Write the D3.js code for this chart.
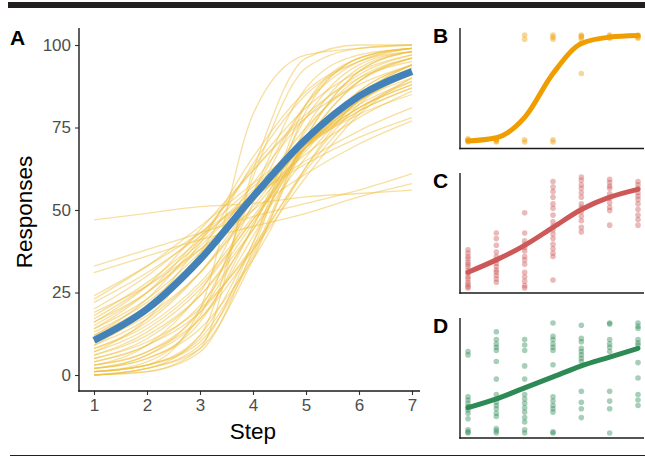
<!DOCTYPE html>
<html>
<head>
<meta charset="utf-8">
<script src="https://cdn.jsdelivr.net/npm/d3@7"></script>
<style>
  body { margin: 0; background: #fff; }
  svg { display: block; font-family: "Liberation Sans", Arial, sans-serif; }
</style>
</head>
<body>
<div id="chart"></div>
<script>
// steps on the x axis
var steps = [1, 2, 3, 4, 5, 6, 7];
var yTicksA = [0, 25, 50, 75, 100];

// panel A: fitted curve per participant (value at each step) and the mean fit
var curvesA = [
  [47, 49, 51, 52, 54, 55, 56],
  [33, 38, 43, 48, 52, 56, 61],
  [31, 36, 41, 45, 49, 54, 58],
  [0, 1, 8, 62, 96, 100, 100],
  [1, 3, 20, 79, 97, 99, 100],
  [0, 2, 12, 60, 93, 99, 100],
  [1, 4, 18, 55, 87, 97, 99],
  [0, 2, 9, 40, 82, 96, 99],
  [2, 5, 16, 45, 78, 94, 98],
  [1, 3, 11, 37, 72, 92, 98],
  [3, 7, 19, 45, 74, 90, 96],
  [2, 6, 17, 42, 71, 89, 96],
  [4, 9, 21, 44, 69, 86, 94],
  [5, 11, 24, 46, 70, 86, 94],
  [6, 12, 24, 44, 66, 83, 92],
  [7, 14, 27, 47, 68, 83, 91],
  [8, 15, 28, 48, 69, 84, 93],
  [9, 17, 31, 51, 71, 85, 93],
  [10, 18, 31, 50, 69, 83, 91],
  [11, 20, 34, 53, 71, 84, 92],
  [12, 21, 35, 53, 70, 83, 90],
  [13, 22, 36, 53, 69, 81, 89],
  [14, 23, 37, 54, 70, 82, 89],
  [15, 25, 39, 55, 70, 81, 88],
  [16, 25, 38, 53, 67, 78, 86],
  [17, 27, 40, 55, 69, 80, 87],
  [18, 28, 41, 56, 70, 81, 88],
  [20, 30, 43, 57, 70, 80, 87],
  [22, 31, 42, 54, 65, 74, 81],
  [23, 33, 45, 58, 70, 79, 85],
  [24, 33, 43, 54, 64, 72, 78],
  [19, 27, 38, 50, 61, 70, 77],
  [1, 3, 12, 40, 75, 93, 98],
  [0, 1, 7, 38, 80, 96, 99],
  [0, 2, 8, 35, 72, 92, 98],
  [2, 5, 14, 35, 63, 84, 94],
  [3, 7, 17, 38, 63, 82, 92],
  [4, 9, 19, 39, 62, 80, 90],
  [5, 10, 20, 38, 60, 79, 90],
  [6, 13, 26, 47, 69, 85, 94],
  [8, 16, 31, 53, 75, 89, 96],
  [10, 19, 35, 58, 78, 91, 97],
  [12, 23, 41, 63, 81, 92, 97],
  [14, 25, 42, 62, 79, 90, 95],
  [9, 20, 40, 66, 86, 95, 98],
  [7, 17, 37, 64, 85, 95, 99],
  [3, 9, 25, 55, 82, 95, 99],
  [2, 6, 20, 52, 82, 96, 99],
  [16, 27, 44, 62, 78, 88, 94],
  [1, 3, 10, 36, 70, 89, 96]
];
var meanA = [10.5, 20, 35, 54, 71.5, 84.5, 92];

// panel B: single participant, responses as proportion
var pointsB = [
  [0, 0.01, 0.02, 0.03],
  [0, 0.01, 0.02, 0.03],
  [1, 0.96, 0.02, 0],
  [1, 0.98, 0.96, 0.02, 0],
  [1, 0.99, 0.98, 0.96, 0.92, 0.64],
  [1, 0.99, 0.98, 0.97],
  [1, 0.99, 0.98, 0.97]
];
var fitB = [0.01, 0.04, 0.23, 0.64, 0.92, 0.98, 0.995];

// panel C
var pointsC = [
  [35, 32, 29, 27, 24, 22, 20, 17, 14, 11, 9, 6, 4, 2, 1],
  [50, 45, 39, 33, 29, 26, 23, 20, 17, 15, 12, 9, 6],
  [68, 50, 43, 40, 37, 34, 29, 26, 22, 15, 11, 7, 3, 1],
  [96, 91, 87, 82, 76, 72, 66, 60, 56, 53, 49, 45, 40, 36, 32, 29, 8],
  [100, 97, 93, 90, 86, 82, 76, 73, 69, 65, 61, 55, 51],
  [98, 95, 92, 90, 85, 81, 77, 73, 70, 57],
  [96, 93, 90, 86, 83, 80, 76, 71, 66, 62, 57]
];
var fitC = [15, 26, 39, 55, 71, 82, 89];

// panel D
var pointsD = [
  [74, 71, 33, 30, 27, 24, 21, 18, 13, 3, 1, 0],
  [92, 85, 81, 78, 75, 65, 49, 35, 28, 25, 22, 18, 15, 4, 2, 0],
  [85, 80, 75, 61, 49, 35, 31, 27, 23, 19, 14, 10, 3, 0],
  [100, 88, 85, 81, 78, 75, 62, 33, 29, 25, 22, 19, 1, 0],
  [98, 86, 83, 77, 74, 71, 68, 65, 38, 28, 22, 14],
  [100, 99, 85, 81, 78, 74, 38, 29, 22, 0],
  [100, 97, 95, 85, 82, 80, 64, 50, 35, 30, 25]
];
var fitD = [23, 31, 41, 51, 61, 69, 77];

var W = 645, H = 457;
var svg = d3.select("#chart").append("svg")
  .attr("width", W)
  .attr("height", H);

// frame rules top and bottom
svg.append("rect").attr("x", 8).attr("y", 2).attr("width", W - 8).attr("height", 6).attr("fill", "#231f20");
svg.append("line").attr("x1", 10).attr("x2", W).attr("y1", 455.5).attr("y2", 455.5)
  .attr("stroke", "#231f20").attr("stroke-width", 1);

// ---- panel A ----
var xA = d3.scaleLinear().domain([1, 7]).range([94, 412]);
var yA = d3.scaleLinear().domain([0, 100]).range([375, 45]);

var lineA = d3.line()
  .x((d, i) => xA(steps[i]))
  .y(d => yA(d))
  .curve(d3.curveMonotoneX);

var gA = svg.append("g");
gA.selectAll("path.ind")
  .data(curvesA)
  .enter().append("path")
  .attr("class", "ind")
  .attr("d", lineA)
  .attr("fill", "none")
  .attr("stroke", "#efc040")
  .attr("stroke-opacity", 0.5)
  .attr("stroke-width", 1.3);

gA.append("path")
  .attr("d", lineA(meanA))
  .attr("fill", "none")
  .attr("stroke", "#4382b8")
  .attr("stroke-width", 7);

var yAxisA = svg.append("g")
  .attr("transform", "translate(79,0)")
  .call(d3.axisLeft(yA).tickValues(yTicksA).tickSize(4).tickPadding(4));
var xAxisA = svg.append("g")
  .attr("transform", "translate(0,391)")
  .call(d3.axisBottom(xA).tickValues(steps).tickFormat(d3.format("d")).tickSize(4).tickPadding(4));

[yAxisA, xAxisA].forEach(a => {
  a.select(".domain").remove();
  a.selectAll(".tick line").attr("stroke", "#333").attr("stroke-width", 1.1);
  a.selectAll(".tick text").attr("fill", "#4d4d4d").attr("font-size", 17)
    .attr("font-family", "Liberation Sans, Arial, sans-serif");
});

svg.append("line").attr("x1", 79).attr("x2", 79).attr("y1", 28).attr("y2", 391.7)
  .attr("stroke", "#1a1a1a").attr("stroke-width", 1.4);
svg.append("line").attr("x1", 78.3).attr("x2", 420).attr("y1", 391).attr("y2", 391)
  .attr("stroke", "#1a1a1a").attr("stroke-width", 1.4);

svg.append("text")
  .attr("transform", "translate(32,212) rotate(-90)")
  .attr("text-anchor", "middle")
  .attr("font-size", 22.5)
  .text("Responses");
svg.append("text")
  .attr("x", xA(4)).attr("y", 439)
  .attr("text-anchor", "middle")
  .attr("font-size", 22.5)
  .text("Step");

// ---- small panels ----
var xS = d3.scaleLinear().domain([1, 7]).range([468, 638]);

var panels = [
  { label: "B", pts: pointsB, fit: fitB, color: "#f09d00", dom: [0, 1], rng: [142, 35], top: 28, bottom: 148.5 },
  { label: "C", pts: pointsC, fit: fitC, color: "#cd5858", dom: [0, 100], rng: [289, 177], top: 173, bottom: 293 },
  { label: "D", pts: pointsD, fit: fitD, color: "#2e8a55", dom: [0, 100], rng: [433, 323], top: 318, bottom: 438 }
];

panels.forEach(p => {
  var y = d3.scaleLinear().domain(p.dom).range(p.rng);
  var g = svg.append("g");

  var flat = [];
  p.pts.forEach((arr, i) => arr.forEach(v => flat.push({ s: steps[i], v: v })));

  g.selectAll("circle")
    .data(flat)
    .enter().append("circle")
    .attr("cx", d => xS(d.s))
    .attr("cy", d => y(d.v))
    .attr("r", 2.8)
    .attr("fill", p.color)
    .attr("fill-opacity", 0.42);

  var line = d3.line()
    .x((d, i) => xS(steps[i]))
    .y(d => y(d))
    .curve(d3.curveMonotoneX);

  g.append("path")
    .attr("d", line(p.fit))
    .attr("fill", "none")
    .attr("stroke", p.color)
    .attr("stroke-width", 5)
    .attr("stroke-linecap", "round");

  g.append("line").attr("x1", 460).attr("x2", 460).attr("y1", p.top).attr("y2", p.bottom + 0.7)
    .attr("stroke", "#1a1a1a").attr("stroke-width", 1.4);
  g.append("line").attr("x1", 459.3).attr("x2", 644).attr("y1", p.bottom).attr("y2", p.bottom)
    .attr("stroke", "#1a1a1a").attr("stroke-width", 1.4);

  svg.append("text")
    .attr("x", 433).attr("y", p.top + 15)
    .attr("font-size", 21)
    .attr("font-weight", "bold")
    .text(p.label);
});

svg.append("text")
  .attr("x", 10).attr("y", 45)
  .attr("font-size", 21)
  .attr("font-weight", "bold")
  .text("A");
</script>
</body>
</html>
